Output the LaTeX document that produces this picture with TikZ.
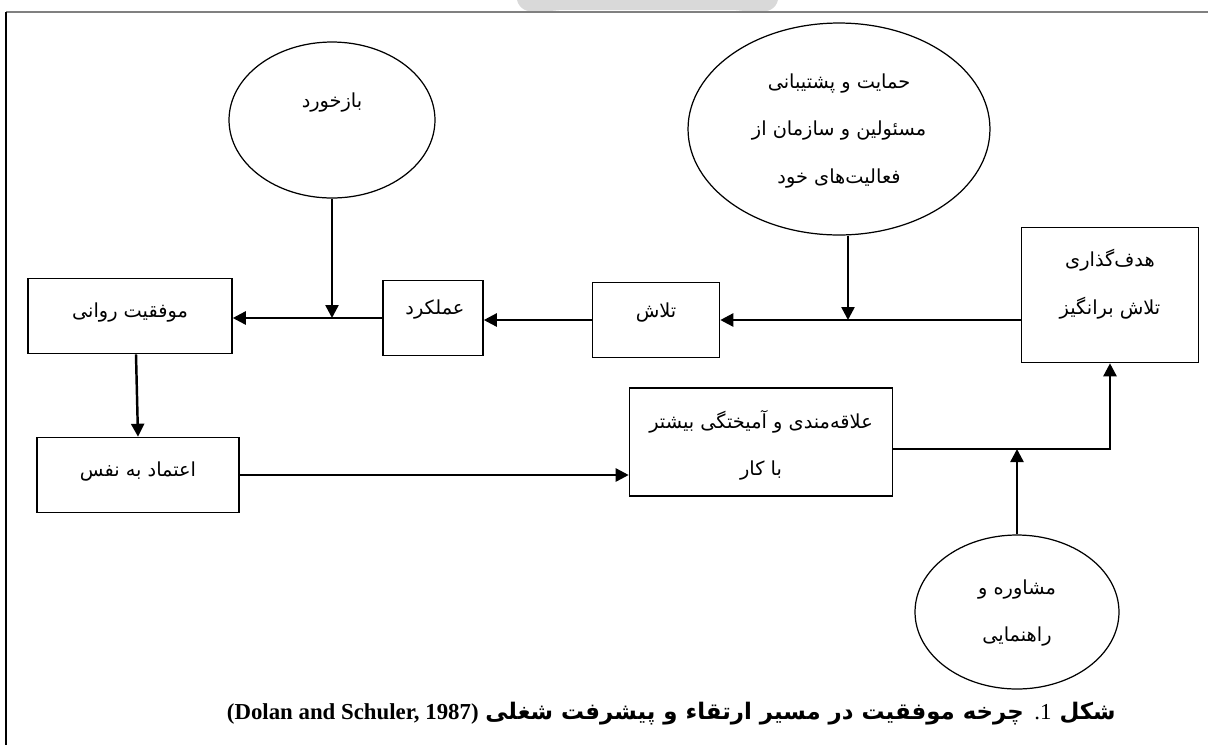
\documentclass[tikz,border=0pt]{standalone}
\usepackage{fontspec}
\setmainfont{Liberation Serif}
\newfontfamily\farsi[Script=Arabic]{DejaVu Sans}
\usetikzlibrary{shapes.geometric, arrows.meta, positioning}
\TeXXeTstate=1
\newcommand{\fa}[1]{{\farsi\beginR #1\endR}}

\begin{document}
\begin{tikzpicture}[x=0.02cm, y=-0.02cm]
\tikzstyle{box} = [rectangle, draw=black, line width=0.9pt, inner sep=0pt]
\tikzstyle{oval} = [ellipse, draw=black, line width=0.7pt, inner sep=0pt]
\tikzstyle{txt} = [font=\fontsize{11}{27}\selectfont, align=center, inner sep=0pt]
\tikzstyle{captext} = [font=\fontsize{13}{15}\selectfont, inner sep=0pt, anchor=base east]
\tikzstyle{arrow} = [line width=1.4pt, -{Triangle[length=0.26cm, width=0.26cm]}]

\useasboundingbox (0,0) rectangle (1208,745);

% Frame
\fill[black!15] (517,0) to[out=-75,in=180] (565,10) -- (730,10) to[out=0,in=-105] (778,0) -- cycle;
\draw[black!50, line width=1.2pt] (6,12) -- (1208,12);
\draw[line width=0.9pt] (6,12) -- (6,745);

% Boxes
\node[box, minimum width=4.08cm, minimum height=1.5cm] (ravani) at (130,316) {};
\node[box, minimum width=2.0cm, minimum height=1.5cm] (amal) at (433,318) {};
\node[box, minimum width=2.54cm, minimum height=1.5cm] (talash) at (656,320) {};
\node[box, minimum width=3.54cm, minimum height=2.7cm] (hadaf) at (1110,295) {};
\node[box, minimum width=5.26cm, minimum height=2.16cm] (alaqe) at (761,442) {};
\node[box, minimum width=4.04cm, minimum height=1.5cm] (etemad) at (138,475) {};

% Ellipses
\node[oval, minimum width=4.12cm, minimum height=3.12cm] (fb) at (332,120) {};
\node[oval, minimum width=6.04cm, minimum height=4.24cm] (sup) at (839,129) {};
\node[oval, minimum width=4.08cm, minimum height=3.08cm] (mosh) at (1017,612) {};

% Texts
\node[txt] (ravanitxt) at (130,313) {\fa{موفقیت روانی}};
\node[txt] (amaltxt) at (435,310) {\fa{عملکرد}};
\node[txt] (talashtxt) at (656,313) {\fa{تلاش}};
\node[txt] (hadaftxt) at (1110,284) {\fa{هدف‌گذاری}\\\fa{تلاش برانگیز}};
\node[txt] (alaqetxt) at (761,445) {\fa{علاقه‌مندی و آمیختگی بیشتر}\\\fa{با کار}};
\node[txt] (etemadtxt) at (138,472) {\fa{اعتماد به نفس}};
\node[txt] (fbtxt) at (332,103) {\fa{بازخورد}};
\node[txt] (suptxt) at (839,131) {\fa{حمایت و پشتیبانی}\\\fa{مسئولین و سازمان از}\\\fa{فعالیت‌های خود}};
\node[txt] (moshtxt) at (1017,613) {\fa{مشاوره و}\\\fa{راهنمایی}};

% Arrows
\draw[arrow] (amal.west) -- (amal.west -| ravani.east);
\coordinate (fbj) at (fb.south |- amal.west);
\draw[arrow] (fb.south) -- (fbj);
\draw[arrow] (talash.west) -- (talash.west -| amal.east);
\draw[arrow] (hadaf.west |- talash.east) -- (talash.east);
\coordinate (supb) at ([xshift=0.18cm]sup.south);
\coordinate (supj) at (supb |- talash.east);
\draw[arrow] (supb) -- (supj);
\draw[arrow] ([xshift=0.12cm]ravani.south) -- (etemad.north);
\draw[arrow] (etemad.east) -- (etemad.east -| alaqe.west);
\coordinate (alj) at ([yshift=-0.14cm]alaqe.east);
\draw[arrow] (alj) -| (hadaf.south);
\coordinate (moshj) at (mosh.north |- alj);
\draw[arrow] (mosh.north) -- (moshj);

% Caption
\node[captext] (capfa) at (1116,719) {\farsi\bfseries\beginR شکل {\rmfamily\mdseries 1\kern0pt.} چرخه موفقیت در مسیر ارتقاء و پیشرفت شغلی\endR};
\node[captext, font=\fontsize{13}{15}\selectfont\bfseries] (caplat) at ([xshift=-0.12cm]capfa.base west) {(Dolan and Schuler, 1987)};
\end{tikzpicture}
\end{document}
